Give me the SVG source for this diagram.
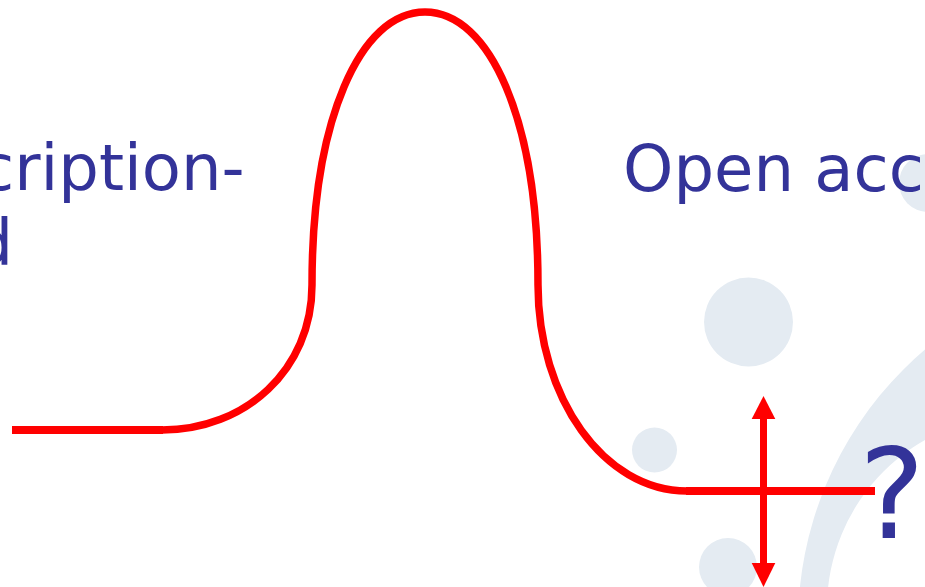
<svg xmlns="http://www.w3.org/2000/svg" width="925" height="587" viewBox="0 0 925 587">
  <style>
    .bg { fill: #E4EBF2; }
    .label { font-family: "DejaVu Sans", Verdana, sans-serif; fill: #333399; }
    .curve { fill: none; stroke: #FF0000; stroke-width: 7.5; stroke-linecap: butt; }
    .flat { fill: none; stroke: #FF0000; stroke-width: 8; }
    .shaft { stroke: #FF0000; stroke-width: 7; }
    .head { fill: #FF0000; }
  </style>
  <rect width="925" height="587" fill="#FFFFFF"/>
  <g id="background">
    <circle class="bg" cx="748.5" cy="322" r="44.5"/>
    <circle class="bg" cx="654.5" cy="450" r="22.5"/>
    <circle class="bg" cx="728" cy="567" r="29"/>
    <circle class="bg" cx="928" cy="183" r="29"/>
    <path class="bg" fill-rule="evenodd" d="M1518,624 A360,360 0 1,1 798,624 A360,360 0 1,1 1518,624 Z M1213,608 A193,193 0 1,0 827,608 A193,193 0 1,0 1213,608 Z"/>
  </g>
  <g id="labels">
    <text id="label-left-1" class="label" x="-21" y="190" font-size="64">cription-</text>
    <text id="label-left-2" class="label" x="-27.5" y="265" font-size="64">d</text>
    <text id="label-right" class="label" x="623" y="191" font-size="64">Open acc</text>
    <text id="label-question" class="label" x="859" y="538" font-size="124">?</text>
  </g>
  <g id="connectors">
    <path class="flat" d="M12,430 L163,430"/>
    <path class="curve" d="M162,430 C245,430 312,370 312,285"/>
    <path class="curve" d="M312,285 C312,120 360,12 425,12 C490,12 538,120 538,285"/>
    <path class="curve" d="M538,285 C538,398 604,491 687,491"/>
    <path class="flat" d="M686,491 L875,491"/>
    <g id="double-arrow">
      <line class="shaft" x1="763.5" y1="415" x2="763.5" y2="567"/>
      <polygon class="head" points="763.5,396 751.7,419 775.3,419"/>
      <polygon class="head" points="763.5,587 751.7,563 775.3,563"/>
    </g>
  </g>
</svg>
